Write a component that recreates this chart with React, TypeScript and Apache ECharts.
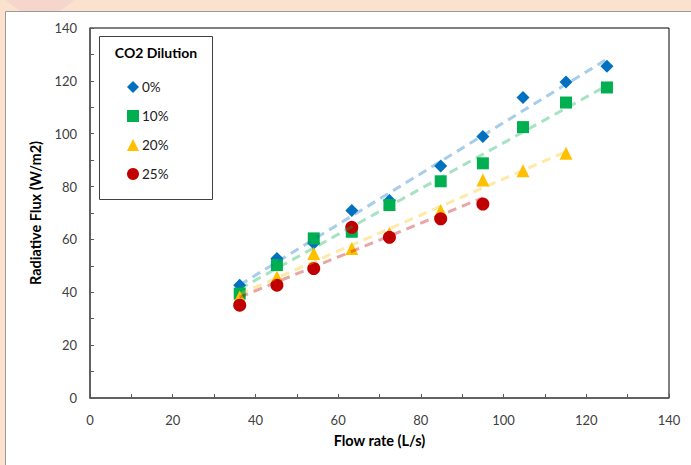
import React, { useEffect, useRef } from "react";
import * as echarts from "echarts";

const seriesNames = ["0%", "10%", "20%", "25%"];
const flow0 = [36.2, 45.2, 54.1, 63.3, 72.4, 84.8, 95, 104.7, 115.1, 125];
const flux0 = [42.7, 52.8, 58.6, 70.9, 74.7, 87.8, 98.9, 113.7, 119.6, 125.5];
const flow10 = [36.2, 45.2, 54.1, 63.3, 72.4, 84.8, 95, 104.7, 115.1, 125];
const flux10 = [39.5, 50.3, 60.4, 62.9, 73.0, 82.0, 88.8, 102.5, 111.8, 117.5];
const flow20 = [36.2, 45.2, 54.1, 63.3, 72.4, 84.8, 95, 104.7, 115.1];
const flux20 = [38.2, 45.8, 54.7, 56.6, 62.3, 70.9, 82.5, 86.0, 92.6];
const flow25 = [36.2, 45.2, 54.1, 63.3, 72.4, 84.8, 95];
const flux25 = [35.1, 42.7, 49.0, 64.6, 60.8, 67.8, 73.4];

const colors = ["#0070C0", "#00B050", "#FFC000", "#C00000"];
const symbols = ["diamond", "rect", "triangle", "circle"];
const symbolSizes = [13, 12, 13, 13];
const flows = [flow0, flow10, flow20, flow25];
const fluxes = [flux0, flux10, flux20, flux25];

function linearTrend(xs: number[], ys: number[]) {
  const n = xs.length;
  const mx = xs.reduce((a, b) => a + b, 0) / n;
  const my = ys.reduce((a, b) => a + b, 0) / n;
  let sxy = 0;
  let sxx = 0;
  for (let i = 0; i < n; i++) {
    sxy += (xs[i] - mx) * (ys[i] - my);
    sxx += (xs[i] - mx) * (xs[i] - mx);
  }
  const slope = sxy / sxx;
  const b = my - slope * mx;
  const x0 = Math.min(...xs);
  const x1 = Math.max(...xs);
  return [
    [x0, slope * x0 + b],
    [x1, slope * x1 + b],
  ];
}

const FONT = "Lato, 'Noto Sans', sans-serif";

export default function App() {
  const ref = useRef<HTMLDivElement>(null);
  useEffect(() => {
    if (!ref.current) return;
    const chart = echarts.init(ref.current, undefined, { renderer: "svg" });
    const scatterSeries = seriesNames.map((name, i) => ({
      name,
      type: "scatter",
      symbol: symbols[i],
      symbolSize: symbolSizes[i],
      itemStyle: { color: colors[i], opacity: 1 },
      data: flows[i].map((x, j) => [x, fluxes[i][j]]),
      z: 3,
    }));
    const trendSeries = seriesNames.map((name, i) => ({
      name: name + " trend",
      type: "line",
      showSymbol: false,
      symbol: "none",
      lineStyle: { color: colors[i], width: 3, type: [9, 6], opacity: 0.35 },
      data: linearTrend(flows[i], fluxes[i]),
      z: 4,
      silent: true,
    }));
    chart.setOption({
      animation: false,
      backgroundColor: "#FAE2CE",
      textStyle: { fontFamily: FONT },
      graphic: [
        {
          type: "circle",
          shape: { cx: 40, cy: -30, r: 45 },
          style: { fill: "rgba(240,200,205,0.45)" },
          z: -3,
        },
        {
          type: "rect",
          shape: { x: 5.5, y: 11.5, width: 720, height: 480 },
          style: { fill: "#ffffff", stroke: "#9a9a9a", lineWidth: 1 },
          z: -2,
        },
        {
          type: "rect",
          shape: { x: 99.5, y: 36.5, width: 113, height: 163 },
          style: { fill: "#ffffff", stroke: "#404040", lineWidth: 1 },
          z: 1,
        },
        {
          type: "text",
          x: 156,
          y: 52,
          style: {
            text: "CO2 Dilution",
            fontFamily: FONT,
            fontWeight: "bold",
            fontSize: 14,
            fill: "#000",
            align: "center",
            verticalAlign: "middle",
          },
          z: 2,
        },
      ],
      legend: {
        data: seriesNames,
        orient: "vertical",
        left: 127,
        top: 80,
        itemWidth: 12,
        itemHeight: 12,
        itemGap: 15,
        padding: 0,
        textStyle: { fontFamily: FONT, fontSize: 13.5, color: "#202020", padding: [0, 0, 0, -2] },
        z: 5,
      },
      grid: {
        left: 90,
        top: 28,
        right: 22,
        bottom: 67,
        show: true,
        borderColor: "#000",
        borderWidth: 1,
        containLabel: false,
      },
      xAxis: {
        type: "value",
        min: 0,
        max: 140,
        interval: 20,
        name: "Flow rate (L/s)",
        nameLocation: "middle",
        nameGap: 35,
        nameTextStyle: { fontFamily: FONT, fontWeight: "bold", fontSize: 14.5, color: "#000" },
        axisLine: { show: true, onZero: false, lineStyle: { color: "#595959", width: 1.5 } },
        axisTick: { show: true, inside: true, length: 4, lineStyle: { color: "#595959" } },
        minorTick: { show: true, splitNumber: 2, length: 4, lineStyle: { color: "#595959" } },
        splitLine: { show: false },
        axisLabel: { fontFamily: FONT, fontSize: 13, color: "#404040", margin: 15 },
      },
      yAxis: {
        type: "value",
        min: 0,
        max: 140,
        interval: 20,
        name: "Radiative Flux (W/m2)",
        nameLocation: "middle",
        nameGap: 43,
        nameRotate: 90,
        nameTextStyle: { fontFamily: FONT, fontWeight: "bold", fontSize: 14.5, color: "#000" },
        axisLine: { show: true, onZero: false, lineStyle: { color: "#595959", width: 1.5 } },
        axisTick: { show: true, inside: true, length: 4, lineStyle: { color: "#595959" } },
        minorTick: { show: true, splitNumber: 2, length: 4, lineStyle: { color: "#595959" } },
        splitLine: { show: false },
        axisLabel: { fontFamily: FONT, fontSize: 13, color: "#404040", margin: 13 },
      },
      series: [...scatterSeries, ...trendSeries],
    });
    return () => chart.dispose();
  }, []);
  return (
    <div
      ref={ref}
      style={{ position: "fixed", left: 0, top: 0, width: 691, height: 465 }}
    />
  );
}
